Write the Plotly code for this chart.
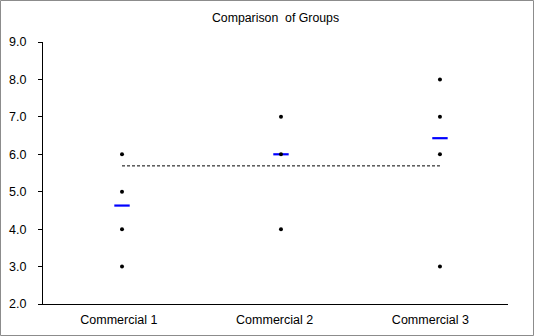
import plotly.graph_objects as go

categories = ["Commercial 1", "Commercial 2", "Commercial 3"]
group_x = [1, 2, 3]
points_c1 = [3.0, 4.0, 5.0, 6.0]
points_c2 = [4.0, 6.0, 7.0]
points_c3 = [3.0, 6.0, 7.0, 8.0]
group_means = [4.63, 6.0, 6.43]
grand_mean = 5.69
y_ticks = [2, 3, 4, 5, 6, 7, 8, 9]
label_pos = [0.98, 1.96, 2.94]

W, H = 534, 336
ml, mr, mt, mb = 43, 26, 42, 32

fig = go.Figure()
all_points = [points_c1, points_c2, points_c3]
xs, ys = [], []
for gx, pts in zip(group_x, all_points):
    for v in pts:
        xs.append(gx)
        ys.append(v)

fig.add_trace(go.Scatter(x=[group_x[0], group_x[-1]], y=[grand_mean, grand_mean],
                         mode="lines", line=dict(color="black", width=1, dash="3px,2px"),
                         hoverinfo="skip"))
fig.add_trace(go.Scatter(x=group_x, y=group_means, mode="markers",
                         marker=dict(symbol="line-ew", size=11,
                                     line=dict(color="#0000ff", width=2.2))))
fig.add_trace(go.Scatter(x=xs, y=ys, mode="markers",
                         marker=dict(color="black", size=4, symbol="circle")))

pw = W - ml - mr
ph = H - mt - mb
fig.add_shape(type="rect", xref="paper", yref="paper",
              x0=(-ml + 0.5) / pw, x1=(pw + mr - 0.5) / pw,
              y0=(-mb + 0.5) / ph, y1=(ph + mt - 0.5) / ph,
              line=dict(color="#8c8c8c", width=1))

fig.update_layout(
    width=W, height=H,
    margin=dict(l=ml, r=mr, t=mt, b=mb, autoexpand=False),
    paper_bgcolor="white", plot_bgcolor="white",
    showlegend=False,
    font=dict(family="Liberation Sans, Arial, sans-serif", size=12, color="black"),
    title=dict(text="Comparison  of Groups", x=0.5, xref="paper", xanchor="center",
               y=1 - 18 / H, yanchor="middle",
               font=dict(size=12.3, color="black")),
    xaxis=dict(range=[0.503, 3.428], tickmode="array", tickvals=label_pos,
               ticktext=categories, showgrid=False, zeroline=False, automargin=False,
               showline=True, linecolor="black", linewidth=1, ticks="",
               ticklabelstandoff=4, tickfont=dict(size=12.5)),
    yaxis=dict(range=[2, 9], tickmode="array", tickvals=y_ticks,
               ticktext=[f"{v:.1f}" for v in y_ticks], showgrid=False, zeroline=False,
               automargin=False,
               showline=True, linecolor="black", linewidth=1, ticks="outside",
               ticklen=4, tickcolor="black", ticklabelstandoff=9,
               tickfont=dict(size=12.5)),
)

fig.write_html("out.html")
